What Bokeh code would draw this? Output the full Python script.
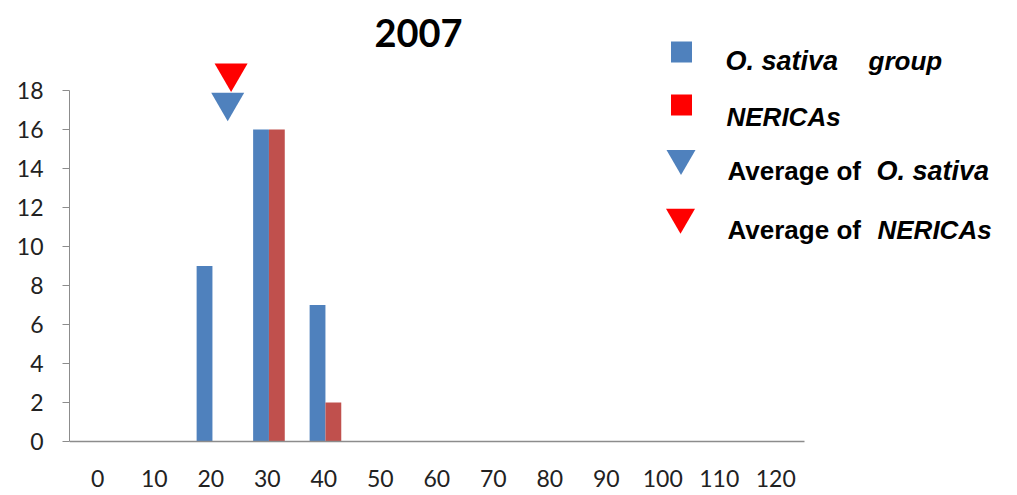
from bokeh.plotting import figure
from bokeh.models import ColumnDataSource, FixedTicker, Range1d, Label
from bokeh.transform import dodge
from bokeh.embed import file_html
from bokeh.resources import INLINE

# ---------------- data ----------------
title_text = "2007"
categories = ["0", "10", "20", "30", "40", "50", "60", "70", "80", "90", "100", "110", "120"]
sativa_counts = [0, 0, 9, 16, 7, 0, 0, 0, 0, 0, 0, 0, 0]
nerica_counts = [0, 0, 0, 16, 2, 0, 0, 0, 0, 0, 0, 0, 0]
y_ticks = [0, 2, 4, 6, 8, 10, 12, 14, 16, 18]
# average markers (position on x scale, height drawn)
avg_names = ["O. sativa", "NERICAs"]
avg_x = [23.0, 23.6]
avg_y = [17.4, 18.9]

BLUE = "#4F81BD"
RED_BAR = "#C0504D"
RED = "#FF0000"

x_pos = [int(c) for c in categories]

# ---------------- layout helpers (screen px -> data) ----------------
W, H = 1010, 492
FRAME_LEFT = 69
PX_X = 5.65
PX_Y = 19.5
X_START = -5.0
Y0_PX = 441


def dx(sx):
    return X_START + (sx - FRAME_LEFT) / PX_X


def dy(sy):
    return (Y0_PX - sy) / PX_Y


p = figure(width=W, height=H,
           x_range=Range1d(X_START, dx(W)),
           y_range=Range1d(dy(H), dy(0)),
           output_backend="svg", toolbar_location=None)
p.min_border = 0
p.min_border_left = FRAME_LEFT
p.outline_line_color = None
p.xgrid.visible = False
p.ygrid.visible = False
p.background_fill_color = "white"
p.border_fill_color = "white"

src = ColumnDataSource(dict(x=x_pos, sativa=sativa_counts, nerica=nerica_counts))
p.vbar(x=dodge("x", -1.1, range=p.x_range), top="sativa", bottom=0, width=2.8,
       source=src, fill_color=BLUE, line_color=None)
p.vbar(x=dodge("x", 1.7, range=p.x_range), top="nerica", bottom=0, width=2.8,
       source=src, fill_color=RED_BAR, line_color=None)

p.scatter(x=avg_x, y=avg_y, marker="inverted_triangle", size=33,
          fill_color=[BLUE, RED], line_color=None)

# x axis
xa = p.xaxis[0]
xa.fixed_location = 0
xa.bounds = (X_START, 125)
xa.ticker = FixedTicker(ticks=x_pos)
xa.major_label_overrides = {v: c for v, c in zip(x_pos, categories)}
xa.major_tick_out = 0
xa.major_tick_in = 0
xa.minor_tick_out = 0
xa.minor_tick_in = 0
xa.axis_line_color = "#8c8c8c"
xa.axis_line_width = 1.5
xa.major_label_standoff = 28
xa.major_label_text_font = "Lato"
xa.major_label_text_font_size = "23px"
xa.major_label_text_color = "#222222"

# y axis
ya = p.yaxis[0]
ya.bounds = (0, 18)
ya.ticker = FixedTicker(ticks=y_ticks)
ya.major_tick_out = 7
ya.major_tick_in = 0
ya.minor_tick_out = 0
ya.minor_tick_in = 0
ya.axis_line_color = "#8c8c8c"
ya.major_tick_line_color = "#8c8c8c"
ya.major_label_standoff = 19
ya.major_label_text_font = "Lato"
ya.major_label_text_font_size = "23px"
ya.major_label_text_color = "#222222"

# title
p.add_layout(Label(x=dx(418), y=dy(32), text=title_text, text_font="Lato",
                   text_font_style="bold", text_font_size="38px", text_color="black",
                   text_align="center", text_baseline="alphabetic"))

# legend markers
p.scatter(x=[dx(681), dx(681)], y=[dy(51.5), dy(104.5)], marker="square", size=21,
          fill_color=[BLUE, RED], line_color=None)
p.scatter(x=[dx(680.5), dx(680)], y=[dy(157.8), dy(216.6)], marker="inverted_triangle",
          size=29, fill_color=[BLUE, RED], line_color=None)


def txt(sx, sy, s, style, size="26px"):
    p.add_layout(Label(x=dx(sx), y=dy(sy), text=s, text_font="Liberation Sans",
                       text_font_style=style, text_font_size=size, text_color="black",
                       text_align="left", text_baseline="alphabetic"))


txt(725, 60.7, "O. sativa", "bold italic", "27px")
txt(868, 60.7, "group", "bold italic")
txt(726, 116.7, "NERICAs", "bold italic")
txt(727, 170, "Average of", "bold")
txt(876, 170, avg_names[0], "bold italic", "27px")
txt(727, 229, "Average of", "bold")
txt(877, 229, avg_names[1], "bold italic")

open("out.html", "w").write(file_html(p, INLINE))
